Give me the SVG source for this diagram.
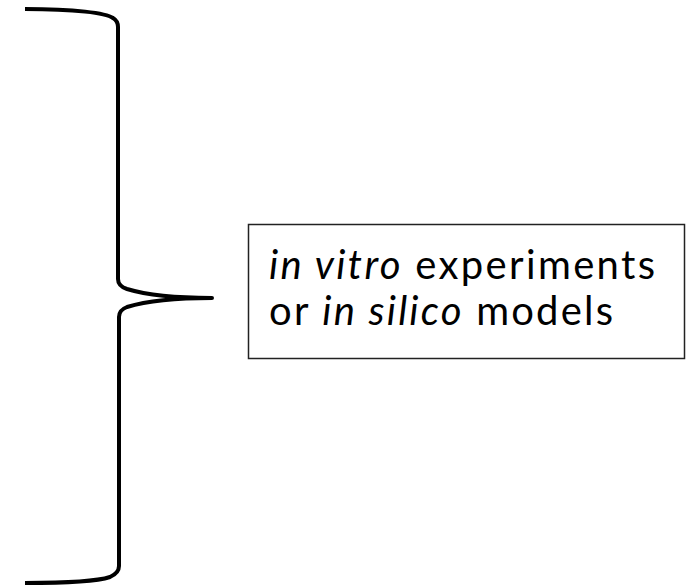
<svg xmlns="http://www.w3.org/2000/svg" width="687" height="585" viewBox="0 0 687 585">
<style>
.brace{fill:none;stroke:#000;stroke-width:4;stroke-linecap:butt;stroke-linejoin:round}
.box{fill:#fff;stroke:#222;stroke-width:1.5}
.lbl{font-family:Lato,"Open Sans","Liberation Sans",sans-serif;font-size:40px;fill:#000}
.it{font-style:italic}
</style>
<g id="connectors">
<path class="brace" d="M25,9 C75,9 106,13 113,18 Q118,21 118,27 L118,279 Q118,286 127,289 C150,296 180,298 212,298 C180,298 150,300 127,307 Q119,310 119,317 L119,566 Q119,573 110,577 C95,582 60,583 25,583"/>
</g>
<g id="node-box">
<rect class="box" x="248.5" y="224.5" width="436" height="134"/>
<text class="lbl" x="269" y="279" textLength="386" lengthAdjust="spacing"><tspan class="it">in vitro</tspan> experiments</text>
<text class="lbl" x="269" y="325" textLength="344" lengthAdjust="spacing">or <tspan class="it">in silico</tspan> models</text>
</g>
</svg>
